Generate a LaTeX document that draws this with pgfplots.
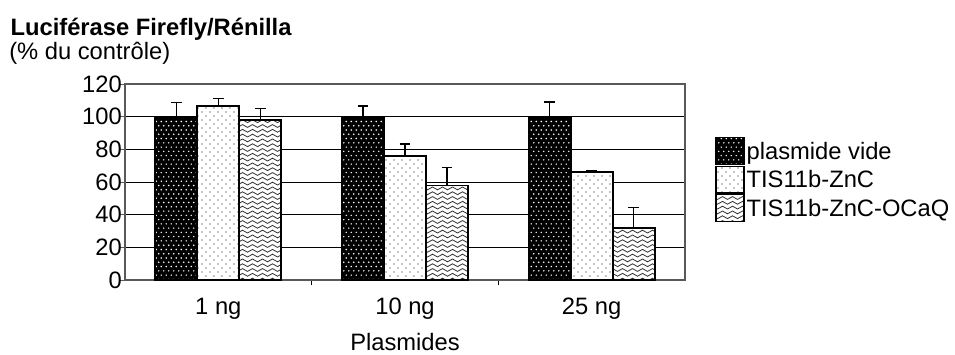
\documentclass[border=0pt]{standalone}
\usepackage{pgfplots}
\pgfplotsset{compat=1.18}
\usepackage{fontspec}
\setmainfont{Liberation Sans}
\usetikzlibrary{patterns}

\pgfdeclarepatternformonly{wdots}{\pgfqpoint{-1pt}{-1pt}}{\pgfqpoint{4.75pt}{7.4pt}}{\pgfqpoint{3.75pt}{6.4pt}}{%
  \pgfpathcircle{\pgfqpoint{0.94pt}{1.6pt}}{0.6pt}%
  \pgfpathcircle{\pgfqpoint{2.81pt}{4.8pt}}{0.6pt}%
  \pgfusepath{fill}}
\pgfdeclarepatternformonly{sdots}{\pgfqpoint{-1pt}{-1pt}}{\pgfqpoint{7pt}{7pt}}{\pgfqpoint{6pt}{6pt}}{%
  \pgfpathcircle{\pgfqpoint{1.5pt}{1.5pt}}{0.55pt}%
  \pgfpathcircle{\pgfqpoint{4.5pt}{4.5pt}}{0.55pt}%
  \pgfusepath{fill}}
\pgfdeclarepatternformonly{waves}{\pgfqpoint{-1pt}{-1pt}}{\pgfqpoint{8.5pt}{4.6pt}}{\pgfqpoint{7.5pt}{3.6pt}}{%
  \pgfsetlinewidth{0.6pt}%
  \pgfpathmoveto{\pgfqpoint{0pt}{1.8pt}}%
  \pgfpathcurveto{\pgfqpoint{1.25pt}{3.2pt}}{\pgfqpoint{2.5pt}{3.2pt}}{\pgfqpoint{3.75pt}{1.8pt}}%
  \pgfpathcurveto{\pgfqpoint{5pt}{0.4pt}}{\pgfqpoint{6.25pt}{0.4pt}}{\pgfqpoint{7.5pt}{1.8pt}}%
  \pgfusepath{stroke}}

\begin{document}
\fontsize{17.8}{21}\selectfont
\begin{tikzpicture}
\begin{axis}[
  scale only axis,
  width=420pt, height=147pt,
  xmin=-0.5, xmax=2.5,
  ymin=0, ymax=120,
  ybar=0pt, bar width=31.5pt,
  xtick={0,1,2},
  xticklabels={1 ng,10 ng,25 ng},
  minor xtick={0.5,1.5},
  major x tick style={draw=none},
  minor x tick style={black, line width=0.75pt},
  ytick={0,20,...,100},
  extra y ticks={120},
  extra y tick style={grid=none},
  ytick pos=left, xtick pos=bottom,
  tick align=outside,
  major tick length=3.75pt, minor tick length=3.75pt,
  y tick style={gray!70!black, line width=0.75pt},
  ymajorgrids,
  grid style={black, line width=0.75pt},
  axis line style={gray!70!black, line width=0.9pt},
  /pgf/number format/assume math mode=true,
  yticklabel style={inner sep=0.5pt, xshift=2pt},
  xticklabel style={yshift=-3.5pt},
  xlabel={Plasmides},
  xlabel style={at={(axis description cs:0.5,0)}, anchor=base, yshift=-52.5pt},
  legend style={draw=none, fill=none, inner sep=0pt, row sep=0.4pt, column sep=1.5pt,
    nodes={inner sep=0pt, anchor=west},
    at={(1.0536,0.731)}, anchor=north west},
  legend cell align=left,
  legend image code/.code={\draw[#1, line width=1pt] (0pt,-9pt) rectangle (21pt,11pt);},
  error bars/y dir=plus,
  error bars/y explicit,
  error bars/error bar style={black, line width=1.2pt},
  error bars/error mark options={rotate=90, black, mark size=4.1pt, line width=1.2pt},
]
\addplot[draw=black, line width=1.3pt, fill=black, postaction={pattern=wdots, pattern color=white}]
  coordinates {(0,100) +- (0,8.7) (1,100) +- (0,6.5) (2,100) +- (0,8.8)};
\addplot[draw=black, line width=1.3pt, fill=white, postaction={pattern=sdots, pattern color=black}]
  coordinates {(0,106.5) +- (0,4.6) (1,76) +- (0,7.3) (2,66.3) +- (0,0.8)};
\addplot[draw=black, line width=1.3pt, fill=white, postaction={pattern=waves, pattern color=black!80}]
  coordinates {(0,98) +- (0,7) (1,57.8) +- (0,11) (2,32) +- (0,12.3)};
\legend{plasmide vide,TIS11b-ZnC,TIS11b-ZnC-OCaQ}
\end{axis}
\node[anchor=base west, inner sep=0pt] at (-86pt,183pt) {\textbf{Luciférase Firefly/Rénilla}};
\node[anchor=base west, inner sep=0pt] at (-87pt,165.25pt) {(\% du contrôle)};
\pgfresetboundingbox
\path[use as bounding box] (-93.75pt,-55.5pt) rectangle (622.5pt,210pt);
\end{tikzpicture}
\end{document}
